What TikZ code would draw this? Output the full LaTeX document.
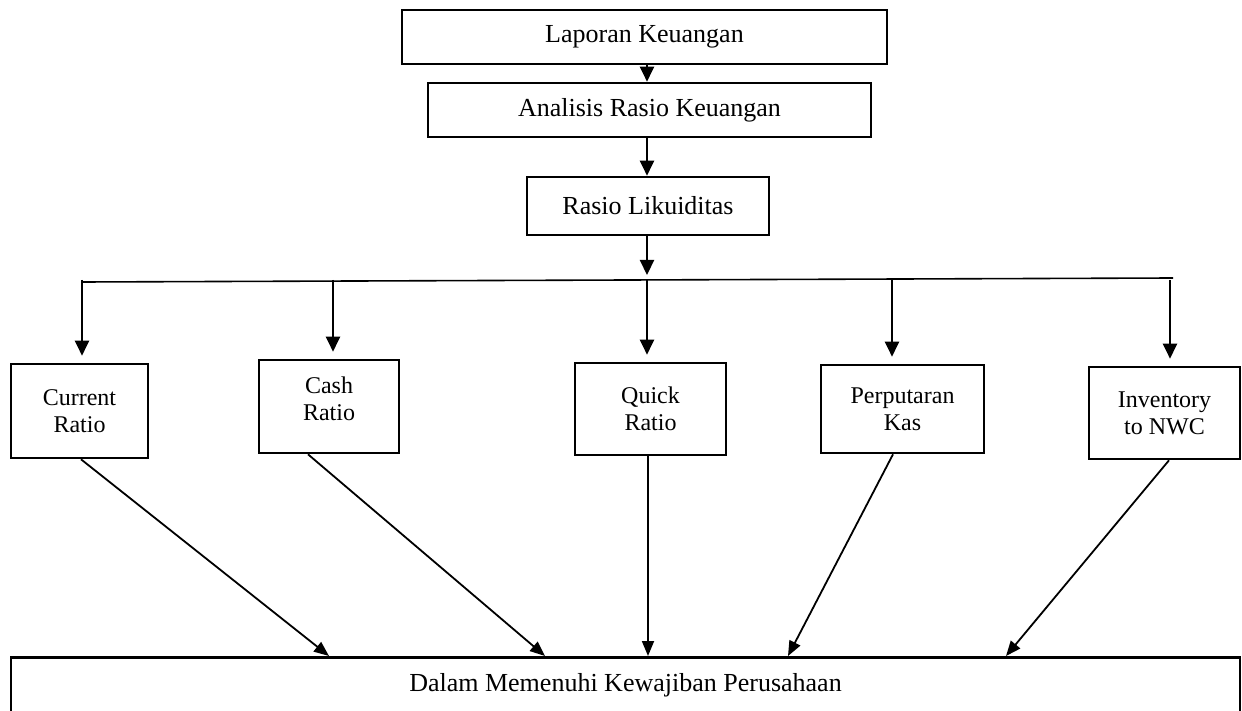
\documentclass[tikz,border=0pt]{standalone}
\usepackage{fontspec}
\setmainfont{Liberation Serif}
\usepackage{tikz}
\usetikzlibrary{arrows.meta,positioning}

\begin{document}
\begin{tikzpicture}[x=1pt,y=-1pt,
		box/.style={draw,line width=2.6pt,inner sep=0pt,align=center,font=\fontsize{26}{30}\selectfont},
		smallbox/.style={box,font=\fontsize{24}{27}\selectfont},
		arr/.style={line width=2.2pt,-{Triangle[length=15pt,width=14pt]}},
		arrb/.style={line width=1.8pt,-{Triangle[length=15pt,width=12pt]}}]
			\useasboundingbox (0,0) rectangle (1242,711);
			\node[box,minimum width=485pt,minimum height=54pt] (lap) at (644.5,37) {Laporan Keuangan};
			\node[box,minimum width=443pt,minimum height=54pt] (ana) at (649.5,110) {Analisis Rasio Keuangan};
			\node[box,minimum width=242pt,minimum height=58pt] (lik) at (648,206) {Rasio Likuiditas};

			\node[smallbox,minimum width=137pt,minimum height=94pt] (cur) at (79.5,411) {Current\\Ratio};
			\node[smallbox,minimum width=140pt,minimum height=93pt] (cash) at (329,406.5) {Cash\\Ratio\\[-12pt]};
			\node[smallbox,minimum width=151pt,minimum height=92pt] (quick) at (650.5,409) {Quick\\Ratio};
			\node[smallbox,minimum width=163pt,minimum height=88pt] (kas) at (902.5,409) {Perputaran\\Kas};
			\node[smallbox,minimum width=151pt,minimum height=92pt] (inv) at (1164.5,413) {Inventory\\to NWC};

			\node[box,anchor=north,minimum width=1229pt,inner ysep=0pt,text height=34.5pt,text depth=40pt] (dalam) at (625.5,656) {Dalam Memenuhi Kewajiban Perusahaan};

			\coordinate (barL) at (82,282);
			\coordinate (split) at (647,280);
			\coordinate (barR) at (1173,278);

			\draw [arr] (lap.south -| split) to (ana.north -| split);
			\draw [arr] (ana.south -| split) to (lik.north -| split);
			\draw [arr] (lik.south -| split) to ([yshift=5pt]split);
			\draw [line width=1.6pt] (barL) -- (barR);

			\foreach \n/\dx in {cur/2.5,cash/4,quick/-3.5,kas/-10.5,inv/5.5}
				\draw [arr,shorten >=7pt] ([xshift=\dx pt]\n.north |- split) to ([xshift=\dx pt]\n.north);

			\foreach \n/\dx/\ex in {cur/1.5/-296.5,cash/-21/-80.5,quick/-2.5/22.5,kas/-9.5/162.5,inv/4.5/380.5}
				\draw [arrb] ([xshift=\dx pt]\n.south) to ([xshift=\ex pt]dalam.north);
		\end{tikzpicture}
\end{document}
